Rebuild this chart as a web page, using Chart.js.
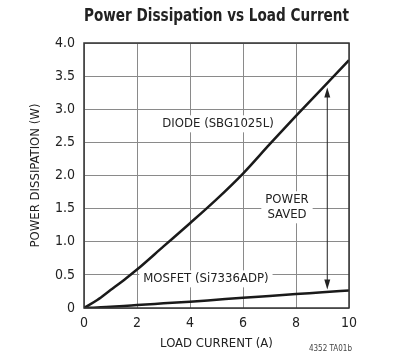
<!DOCTYPE html>
<html>
<head>
<meta charset="utf-8">
<script src="https://cdn.jsdelivr.net/npm/chart.js@4.4.0/dist/chart.umd.min.js"></script>
<style>
    html, body { margin: 0; padding: 0; background: #ffffff; }
    #box { position: relative; width: 400px; height: 363px; }
</style>
</head>
<body>
<div id="box"><canvas id="grafico"></canvas></div>
<script>
// dados
const corrente = [0, 0.5, 1, 1.5, 2, 3, 4, 5, 6, 7, 8, 9, 10];
const diodo = [0, 0.12, 0.27, 0.42, 0.58, 0.93, 1.28, 1.64, 2.03, 2.47, 2.90, 3.32, 3.74];
const mosfet = [0, 0.008, 0.02, 0.032, 0.045, 0.07, 0.095, 0.125, 0.155, 0.182, 0.21, 0.237, 0.265];

const yTicks = ['0', '0.5', '1.0', '1.5', '2.0', '2.5', '3.0', '3.5', '4.0'];
const xTicks = ['0', '2', '4', '6', '8', '10'];

// anotações (em unidades do gráfico)
const rotulos = [
    { texto: ['DIODE (SBG1025L)'], x: 5.06, y: 2.78 },
    { texto: ['POWER', 'SAVED'], x: 7.66, y: 1.52 },
    { texto: ['MOSFET (Si7336ADP)'], x: 4.6, y: 0.44 }
];
const seta = { x: 9.18, de: 0.28, ate: 3.33 };

const fonte = '"Liberation Sans Narrow", "DejaVu Sans Condensed", Arial, sans-serif';

function pontos(ys) {
    return corrente.map((x, i) => ({ x: x, y: ys[i] }));
}

// moldura, rótulos e seta
const extras = {
    id: 'extras',
    beforeDatasetsDraw(chart) {
        const c = chart.ctx;
        const sx = chart.scales.x;
        const sy = chart.scales.y;
        c.save();
        c.font = '13px ' + fonte;
        c.textAlign = 'center';
        c.textBaseline = 'middle';
        rotulos.forEach(r => {
            const px = sx.getPixelForValue(r.x);
            const py = sy.getPixelForValue(r.y);
            const alt = 15;
            const larg = Math.max(...r.texto.map(t => c.measureText(t).width));
            const topo = py - alt * r.texto.length / 2;
            c.fillStyle = '#ffffff';
            c.fillRect(px - larg / 2 - 4, topo - 1, larg + 8, alt * r.texto.length + 2);
            c.fillStyle = '#222222';
            r.texto.forEach((t, i) => c.fillText(t, px, topo + alt * i + alt / 2));
        });
        c.restore();
    },
    afterDatasetsDraw(chart) {
        const c = chart.ctx;
        const a = chart.chartArea;
        const sx = chart.scales.x;
        const sy = chart.scales.y;
        c.save();
        // moldura
        c.strokeStyle = '#333333';
        c.lineWidth = 1.5;
        c.strokeRect(a.left, a.top, a.right - a.left, a.bottom - a.top);
        // seta dupla
        const px = sx.getPixelForValue(seta.x);
        const y1 = sy.getPixelForValue(seta.ate);
        const y2 = sy.getPixelForValue(seta.de);
        c.strokeStyle = '#222222';
        c.lineWidth = 1;
        c.beginPath();
        c.moveTo(px, y1 + 4);
        c.lineTo(px, y2 - 4);
        c.stroke();
        c.fillStyle = '#222222';
        c.beginPath();
        c.moveTo(px, y1);
        c.lineTo(px - 3, y1 + 10);
        c.lineTo(px + 3, y1 + 10);
        c.closePath();
        c.fill();
        c.beginPath();
        c.moveTo(px, y2);
        c.lineTo(px - 3, y2 - 10);
        c.lineTo(px + 3, y2 - 10);
        c.closePath();
        c.fill();
        // código da figura
        c.font = '8px ' + fonte;
        c.fillStyle = '#444444';
        c.textAlign = 'center';
        c.textBaseline = 'middle';
        c.fillText('4352 TA01b', sx.getPixelForValue(9.3), 349);
        c.restore();
    }
};

const ctx = document.getElementById('grafico').getContext('2d');

const config = {
    type: 'line',
    data: {
        datasets: [
            {
                label: 'DIODE (SBG1025L)',
                data: pontos(diodo),
                borderColor: '#1a1a1a',
                borderWidth: 2.5,
                pointRadius: 0,
                cubicInterpolationMode: 'monotone',
                fill: false
            },
            {
                label: 'MOSFET (Si7336ADP)',
                data: pontos(mosfet),
                borderColor: '#1a1a1a',
                borderWidth: 2.5,
                pointRadius: 0,
                cubicInterpolationMode: 'monotone',
                fill: false
            }
        ]
    },
    options: {
        responsive: true,
        maintainAspectRatio: false,
        animation: false,
        layout: { padding: { left: 24, right: 51, top: 0, bottom: 0 } },
        plugins: {
            legend: { display: false },
            tooltip: { enabled: false },
            title: {
                display: true,
                text: 'Power Dissipation vs Load Current',
                color: '#222222',
                font: { family: fonte, size: 18, weight: 'bold' },
                padding: { top: 6, bottom: 15.4 },
                fullSize: false
            }
        },
        scales: {
            x: {
                type: 'linear',
                min: 0,
                max: 10,
                afterFit: s => { s.height = 55; },
                ticks: {
                    stepSize: 2,
                    padding: 7,
                    color: '#222222',
                    font: { family: fonte, size: 14 },
                    callback: (v) => xTicks[v / 2]
                },
                grid: { color: '#8a8a8a', lineWidth: 1, drawTicks: false },
                border: { display: false },
                title: {
                    display: true,
                    text: 'LOAD CURRENT (A)',
                    color: '#222222',
                    font: { family: fonte, size: 13 },
                    padding: { top: 3, bottom: 12 }
                }
            },
            y: {
                min: 0,
                max: 4,
                afterFit: s => { s.width = 60; },
                ticks: {
                    stepSize: 0.5,
                    padding: 9,
                    color: '#222222',
                    font: { family: fonte, size: 14 },
                    callback: (v) => yTicks[Math.round(v * 2)]
                },
                grid: { color: '#8a8a8a', lineWidth: 1, drawTicks: false },
                border: { display: false },
                title: {
                    display: true,
                    text: 'POWER DISSIPATION (W)',
                    color: '#222222',
                    font: { family: fonte, size: 13 },
                    padding: { top: 4, bottom: 6 }
                }
            }
        }
    },
    plugins: [extras]
};

new Chart(ctx, config);
</script>
</body>
</html>
